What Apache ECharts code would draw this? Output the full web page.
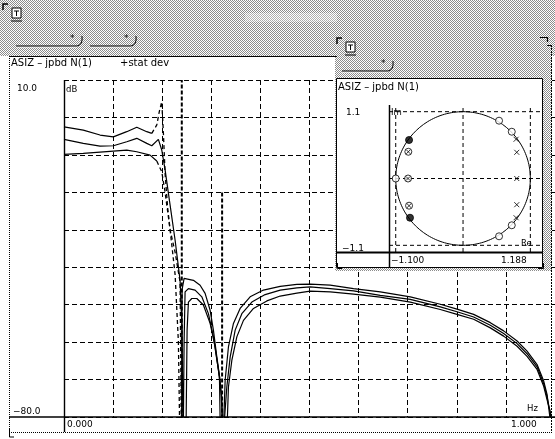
<!DOCTYPE html>
<html><head><meta charset="utf-8">
<script src="https://cdn.jsdelivr.net/npm/echarts@6/dist/echarts.min.js"></script>
<style>html,body{margin:0;padding:0;background:#fff}#c{width:555px;height:439px}</style>
</head><body><div id="c"></div>
<script>
// ---------------- DATA ----------------
// Main plot: magnitude (dB) vs frequency (Hz, normalised 0..1)
const xTicks = [0, 1];            // x labels "0.000" "1.000"
const yTicks = [10, -80];         // y labels "10.0" "-80.0"

const upperPassFreq = [0, 0.0393, 0.0734, 0.1005, 0.1278, 0.1482, 0.1686, 0.1788];
const upperPassDb   = [-2.5, -3.4, -4.7, -5.2, -3.8, -2.6, -3.8, -4.25];

const upperTransFreq = [0.1788, 0.1890, 0.1940, 0.1991, 0.2024, 0.2059, 0.2110, 0.2161, 0.2263, 0.2364, 0.2395];
const upperTransDb   = [-4.25, -2.0, 1.5, 4.2, -4, -15, -24, -30, -36, -44, -90];

const upperStopFreq = [0.2395, 0.2399, 0.2405, 0.2446, 0.2636, 0.2772, 0.2874, 0.2976, 0.3043, 0.3113, 0.3180, 0.3214, 0.3231,
  0.3251, 0.3282, 0.3349, 0.3451, 0.3587, 0.3791, 0.4062, 0.4403, 0.4743, 0.5014, 0.5422, 0.5897, 0.6441, 0.7053,
  0.7664, 0.8004, 0.8343, 0.8683, 0.8954, 0.9228, 0.9431, 0.9635, 0.9770, 0.9839, 0.9895, 0.9910];
const upperStopDb = [-90, -60, -46, -43.0, -43.5, -44.8, -47.0, -51.5, -56.8, -64.0, -70.2, -77.3, -90,
  -90, -70.2, -61.3, -55.0, -51.0, -47.9, -46.1, -45.1, -44.6, -44.5, -44.8, -45.7, -46.6, -47.9,
  -49.9, -51.2, -52.6, -54.8, -57.0, -59.7, -62.4, -66.0, -70.4, -74.0, -80, -90];

const middleFreq = [0, 0.0393, 0.0734, 0.1005, 0.1278, 0.1482, 0.1686, 0.1788, 0.1922, 0.1991, 0.2059, 0.2161, 0.2263,
  0.2364, 0.2405, 0.2426, 0.2436, 0.2446, 0.2466, 0.2534, 0.2670, 0.2807, 0.2941, 0.3043, 0.3145, 0.3214, 0.3245,
  0.3260, 0.3272, 0.3316, 0.3384, 0.3486, 0.3622, 0.3826, 0.4097, 0.4403, 0.4743, 0.5014, 0.5422, 0.5897, 0.6441,
  0.7053, 0.7664, 0.8004, 0.8343, 0.8683, 0.8954, 0.9228, 0.9431, 0.9635, 0.9770, 0.9839, 0.9906, 0.9920];
const middleDb = [-5.85, -6.92, -7.64, -7.56, -6.49, -5.58, -6.92, -7.56, -5.85, -8.7, -14.0, -23.4, -32.8,
  -43.5, -56.8, -90, -90, -60, -46.6, -45.7, -46.1, -47.9, -52.4, -58.6, -67.5, -74.7, -90,
  -90, -80, -72.0, -64.0, -56.8, -52.4, -49.3, -47.3, -46.1, -45.5, -45.25, -45.7, -46.3, -47.5,
  -48.6, -50.6, -51.9, -53.3, -55.5, -57.7, -60.4, -63.1, -66.6, -71.1, -74.7, -79.1, -90];

const lowerPassFreq = [0, 0.0393, 0.1005, 0.1278, 0.1482, 0.1753, 0.1890];
const lowerPassDb   = [-9.86, -9.59, -8.98, -8.71, -9.17, -10.05, -11.65];

const lowerTransFreq = [0.1890, 0.1991, 0.2059, 0.2161, 0.2263, 0.2330, 0.2364];
const lowerTransDb   = [-11.65, -14.5, -20, -30, -42, -60, -90];

const lowerStopFreq = [0.2480, 0.2507, 0.2534, 0.2603, 0.2705, 0.2839, 0.2976, 0.3078, 0.3166, 0.3190,
  0.3302, 0.3349, 0.3418, 0.3520, 0.3655, 0.3859, 0.4132, 0.4403, 0.4743, 0.5014, 0.5422, 0.5897, 0.6441,
  0.7053, 0.7664, 0.8004, 0.8343, 0.8683, 0.8954, 0.9228, 0.9431, 0.9635, 0.9770, 0.9839, 0.9920, 0.9935];
const lowerStopDb = [-90, -56.8, -49.3, -48.35, -48.35, -50.1, -55.0, -61.3, -69.3, -90,
  -90, -72.0, -64.9, -58.6, -54.2, -51.0, -49.0, -47.7, -46.9, -46.4, -46.6, -47.2, -48.0,
  -49.3, -51.3, -52.6, -53.9, -56.2, -58.4, -61.1, -63.8, -67.3, -71.8, -75.4, -79.5, -90];

const zero1Freq = [0.2399, 0.2399];
const zero1Db   = [-90, 10];
const zero2Freq = [0.3220, 0.3220];
const zero2Db   = [-90, -20];

// Inset: pole/zero plot (Re, Im)
const insetXRange = [-1.1, 1.188];
const insetYRange = [-1.1, 1.1];
const insetGrid = [-1, 0, 1];
const openRe = [0.535, 0.724, 0.724, 0.535, -1.0];
const openIm = [0.865, 0.70, -0.70, -0.865, 0];
const filledRe = [-0.802, -0.788];
const filledIm = [0.576, -0.587];
const crossRe = [-0.813, -0.817, -0.802];
const crossIm = [0.40, 0, -0.407];
const poleRe = [0.788, 0.798, 0.798, 0.798, 0.788];
const poleIm = [0.587, 0.392, 0, -0.392, -0.587];

// ---------------- CHART ----------------
const pair = (xs, ys) => xs.map((x, i) => [x, ys[i]]);
const unitCircle = Array.from({length: 181}, (_, i) => {
  const t = i * 2 * Math.PI / 180; return [Math.cos(t), Math.sin(t)];
});

const pc = document.createElement('canvas');
pc.width = 2; pc.height = 2;
const pctx = pc.getContext('2d');
pctx.fillStyle = '#fff'; pctx.fillRect(0, 0, 2, 2);
pctx.fillStyle = '#8c8c8c'; pctx.fillRect(0, 0, 1, 1); pctx.fillRect(1, 1, 1, 1);
const stipple = {image: pc, repeat: 'repeat'};

const FONT = '"DejaVu Sans", sans-serif';
const txt = (x, y, s, size, z) => ({type: 'text', z: z || 30, silent: true,
  style: {x, y, text: s, font: (size || 9) + 'px ' + FONT, fill: '#000', verticalAlign: 'middle'}});
const pl = (pts, w, dash, z, color) => ({type: 'polyline', z: z || 30, silent: true,
  shape: {points: pts}, style: {stroke: color || '#000', lineWidth: w || 1, lineDash: dash || null, fill: null}});
const rc = (x, y, w, h, fill, stroke, z) => ({type: 'rect', z: z || 5, silent: true,
  shape: {x, y, width: w, height: h}, style: {fill: fill, stroke: stroke || null, lineWidth: 1}});

const fmt = v => (v < 0 ? '\u2212' : '') + Math.abs(v).toFixed(1);
const fmt3 = v => (v < 0 ? '\u2212' : '') + Math.abs(v).toFixed(3);

function button(x0, x1, y) {
  return [
    pl([[x0, y + 1], [x1, y + 1]], 1, null, 31, '#fff'),
    pl([[x0, y], [x1, y]], 1, null, 31),
    {type: 'bezierCurve', z: 31, silent: true, shape: {x1: x1, y1: y, x2: x1 + 5, y2: y - 10, cpx1: x1 + 6, cpy1: y - 1},
      style: {stroke: '#000', lineWidth: 1, fill: null}},
    txt(x1 - 7, y - 7, '*', 9, 31)
  ];
}
function winIcon(x, y) {
  return [
    pl([[x, y + 6], [x, y], [x + 5, y]], 1.5, null, 31),
    rc(x + 9, y + 4, 9, 10, '#fff', '#000', 31),
    pl([[x + 11, y + 7], [x + 16, y + 7]], 1, null, 32),
    pl([[x + 13.5, y + 7], [x + 13.5, y + 12]], 1, null, 32),
    pl([[x + 8, y + 17], [x + 19, y + 17]], 1, null, 32)
  ];
}

const graphic = [
  // top stipple band
  rc(0, 0, 555, 56, stipple, null, 5),
  rc(245, 13, 92, 9, 'rgba(255,255,255,0.3)', null, 6),
  // main window frame
  pl([[9, 56.5], [337, 56.5]], 1, null, 20),
  pl([[9.5, 56], [9.5, 433]], 1, [1, 1], 20),
  pl([[9, 432.5], [552, 432.5]], 1, [1, 1], 20),
  pl([[551.5, 45], [551.5, 433]], 1, [2, 1], 20),
  pl([[547, 45.5], [551.5, 45.5]], 1, null, 20),
  pl([[9.5, 429], [9.5, 437], [14, 437]], 1, null, 20),
  // main axes
  pl([[64.5, 80], [64.5, 432]], 1.4, null, 4),
  pl([[9, 417], [555, 417]], 1.5, null, 4),
  // inset window
  rc(335, 33, 217, 238, stipple, null, 6),
  rc(336.5, 78.5, 206, 189, '#fff', '#000', 7),
  pl([[389.5, 105], [389.5, 267]], 1.5, null, 12),
  pl([[337, 252.5], [542, 252.5]], 2, null, 12),
  pl([[540, 37.5], [547.5, 37.5], [547.5, 42]], 1.2, null, 31),
  pl([[337.5, 263], [337.5, 268.5], [342, 268.5]], 1, null, 31),
  pl([[538, 268.5], [543.5, 268.5], [543.5, 263]], 1, null, 31),
  // texts main
  txt(11, 63, 'ASIZ \u2013 jpbd N(1)', 10),
  txt(120, 63, '+stat dev', 10),
  txt(17, 89, fmt(yTicks[0]), 9),
  txt(66, 89.5, 'dB', 8.5),
  txt(13, 411.5, fmt(yTicks[1]), 9),
  txt(67, 425, fmt3(xTicks[0]), 9),
  txt(511, 425, fmt3(xTicks[1]), 9),
  txt(527, 409, 'Hz', 8.5),
  // texts inset
  txt(338, 87.5, 'ASIZ \u2013 jpbd N(1)', 10),
  txt(346, 112.5, fmt(insetYRange[1]), 9),
  txt(391, 113, 'Im', 8.5),
  txt(342, 249, fmt(insetYRange[0]), 9),
  txt(391, 261, fmt3(insetXRange[0]), 9),
  txt(501, 261, fmt3(insetXRange[1]), 9),
  txt(521, 244, 'Re', 8.5)
].concat(winIcon(3, 4), winIcon(337, 38), button(16, 77, 46), button(90, 131, 46), button(342, 388, 71));

const solid = {color: '#000', width: 1.2};
const dashed = {color: '#000', width: 1.3, type: [4, 3]};
function mainLine(data, ls) {
  return {type: 'line', xAxisIndex: 0, yAxisIndex: 0, data, showSymbol: false, symbol: 'none',
    lineStyle: ls, silent: true, clip: true, z: 2};
}
function insetLine(data, ls) {
  return {type: 'line', xAxisIndex: 1, yAxisIndex: 1, data, showSymbol: false, symbol: 'none',
    lineStyle: ls, silent: true, z: 10};
}
const insetGridLines = [];
insetGrid.forEach(v => {
  insetGridLines.push(insetLine([[v, insetYRange[0]], [v, insetYRange[1]]], {color: '#000', width: 1, type: [4, 3]}));
  insetGridLines.push(insetLine([[insetXRange[0], v], [insetXRange[1], v]], {color: '#000', width: 1, type: [4, 3]}));
});

const option = {
  animation: false,
  backgroundColor: '#fff',
  grid: [
    {left: 64, top: 80, width: 491, height: 337},
    {left: 389, top: 105, width: 154, height: 147}
  ],
  xAxis: [
    {gridIndex: 0, type: 'value', min: 0, max: 1, interval: 0.1,
      axisLine: {show: false}, axisTick: {show: false}, axisLabel: {show: false},
      splitLine: {show: true, lineStyle: {color: '#000', width: 1, type: [5, 3]}}},
    {gridIndex: 1, type: 'value', min: insetXRange[0], max: insetXRange[1], show: false}
  ],
  yAxis: [
    {gridIndex: 0, type: 'value', min: -80, max: 10, interval: 10,
      axisLine: {show: false}, axisTick: {show: false}, axisLabel: {show: false},
      splitLine: {show: true, lineStyle: {color: '#000', width: 1, type: [5, 3]}}},
    {gridIndex: 1, type: 'value', min: insetYRange[0], max: insetYRange[1], show: false}
  ],
  graphic: graphic,
  series: [
    mainLine(pair(upperPassFreq, upperPassDb), solid),
    mainLine(pair(upperTransFreq, upperTransDb), dashed),
    mainLine(pair(upperStopFreq, upperStopDb), solid),
    mainLine(pair(middleFreq, middleDb), solid),
    mainLine(pair(lowerPassFreq, lowerPassDb), solid),
    mainLine(pair(lowerTransFreq, lowerTransDb), dashed),
    mainLine(pair(lowerStopFreq, lowerStopDb), solid),
    mainLine(pair(zero1Freq, zero1Db), {color: '#000', width: 2, type: [4, 2]}),
    mainLine(pair(zero2Freq, zero2Db), {color: '#000', width: 2, type: [4, 2]}),
    ...insetGridLines,
    insetLine(unitCircle, {color: '#000', width: 1}),
    {type: 'scatter', xAxisIndex: 1, yAxisIndex: 1, z: 11, silent: true, data: pair(openRe, openIm),
      symbol: 'circle', symbolSize: 7, itemStyle: {color: '#fff', borderColor: '#000', borderWidth: 1}},
    {type: 'scatter', xAxisIndex: 1, yAxisIndex: 1, z: 11, silent: true, data: pair(filledRe, filledIm),
      symbol: 'circle', symbolSize: 7, itemStyle: {color: '#000', borderColor: '#000', borderWidth: 1}},
    {type: 'scatter', xAxisIndex: 1, yAxisIndex: 1, z: 11, silent: true, data: pair(crossRe, crossIm),
      symbol: 'path://M10,0A10,10,0,1,1,9.99,0ZM4,4L16,16M16,4L4,16', symbolSize: 7,
      itemStyle: {color: '#fff', borderColor: '#000', borderWidth: 1}},
    {type: 'scatter', xAxisIndex: 1, yAxisIndex: 1, z: 11, silent: true, data: pair(poleRe, poleIm),
      symbol: 'path://M0,0L10,10M10,0L0,10', symbolSize: 5,
      itemStyle: {color: 'none', borderColor: '#000', borderWidth: 1}}
  ]
};
const chart = echarts.init(document.getElementById('c'), null, {renderer: 'canvas'});
chart.setOption(option);
</script>
</body></html>
